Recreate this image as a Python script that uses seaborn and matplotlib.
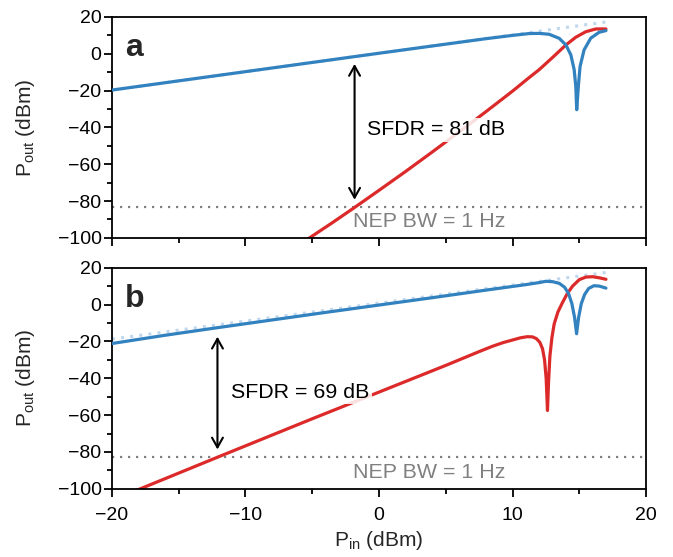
import matplotlib
matplotlib.use("Agg")
import matplotlib.pyplot as plt
from matplotlib.ticker import MultipleLocator
import seaborn as sns

# panel a: fundamental (blue) and third-order intermod (red)
fund_a_x = [-20, -10, 0, 8, 10, 11.25, 12.0, 12.75, 13.5, 14.0, 14.37, 14.62, 14.74,
            14.81, 14.93, 15.06, 15.36, 15.86, 16.49, 17.0]
fund_a_y = [-19.7, -9.7, 0.3, 8.2, 10.0, 11.0, 11.1, 10.6, 8.4, 4.8, -0.6, -8.7, -17.8,
            -30.4, -17.8, -6.9, 2.1, 8.5, 11.7, 12.6]
imd_a_x = [-5.3, -3.5, -1.83, 0, 2, 4, 6, 8, 10, 11.2, 12.0, 13.0, 14.0, 14.74,
           15.49, 16.24, 17.0]
imd_a_y = [-100.5, -91.8, -83.5, -74.2, -63.9, -53.3, -42.5, -31.5, -20.3, -13.2,
           -8.6, -2.0, 4.8, 9.0, 12.0, 13.5, 13.5]
fit_a_x = [-20, 17]
fit_a_y = [-19.7, 17.3]

# panel b
fund_b_x = [-20, -16, -12, -8, -4, 0, 4, 8, 10, 11, 12, 12.5, 13.0, 13.5, 13.9, 14.2,
            14.45, 14.65, 14.8, 14.95, 15.15, 15.4, 15.7, 16.1, 16.5, 17.0]
fund_b_y = [-21.1, -16.6, -12.4, -8.3, -4.2, -0.2, 3.8, 7.9, 9.9, 10.9, 12.0, 12.7,
            12.5, 11.6, 9.5, 6.0, 0.5, -7.0, -15.8, -7.0, 0.5, 5.5, 8.8, 10.3, 10.1, 9.0]
imd_b_x = [-18.2, -12.1, -5, 0, 5, 7.5, 8.5, 9.3, 10, 10.6, 11.1, 11.5, 11.8, 12.05,
           12.25, 12.4, 12.52, 12.62, 12.7, 12.8, 12.95, 13.12, 13.4, 13.74, 14.1,
           14.49, 15.0, 15.5, 16.0, 16.5, 17.0]
imd_b_y = [-101, -82.9, -62, -47.5, -33, -25.5, -22.6, -20.6, -19.2, -18.0, -17.4,
           -17.5, -18.5, -20.5, -24, -30, -40, -57.5, -42, -28, -18, -10.5, -4, 1.1,
           6.0, 10.0, 13.6, 15.0, 15.2, 14.6, 13.8]
fit_b_x = [-20, 17.1]
fit_b_y = [-18.7, 17.6]

nep_level = -83
nep_label = "NEP BW = 1 Hz"
sfdr_a = 81
sfdr_b = 69
sfdr_a_span = (-1.83, -5.5, -79.3)   # x, top, bottom
sfdr_b_span = (-12.1, -17.4, -78.7)

blue = "#3282c0"
red = "#dc2a2a"
fit_col = "#c0d7ed"

sns.set_theme(style="ticks")
plt.rcParams["font.family"] = ["Liberation Sans", "DejaVu Sans"]
plt.rcParams["mathtext.fontset"] = "custom"
plt.rcParams["mathtext.rm"] = "Liberation Sans"
plt.rcParams["mathtext.it"] = "Liberation Sans:italic"

fig, axes = plt.subplots(2, 1, figsize=(6.73, 5.57), dpi=100, sharex=True)
fig.subplots_adjust(left=0.1664, right=0.9599, top=0.9695, bottom=0.1226, hspace=0.136)

panels = [
    (axes[0], "a", fund_a_x, fund_a_y, imd_a_x, imd_a_y, fit_a_x, fit_a_y,
     sfdr_a, sfdr_a_span, (-0.9, -41.4)),
    (axes[1], "b", fund_b_x, fund_b_y, imd_b_x, imd_b_y, fit_b_x, fit_b_y,
     sfdr_b, sfdr_b_span, (-11.05, -47.8)),
]

for ax, letter, fx, fy, ix, iy, ex, ey, sfdr, span, txt_pos in panels:
    ax.plot(ex, ey, color=fit_col, lw=2.2, ls=(0, (1, 2)), zorder=1)
    ax.axhline(nep_level, color="#808080", lw=1.6, ls=(0, (1, 2.6)), zorder=1)
    sns.lineplot(x=fx, y=fy, ax=ax, color=blue, lw=2.3, zorder=3)
    sns.lineplot(x=ix, y=iy, ax=ax, color=red, lw=2.3, zorder=2)

    ax.annotate("", xy=(span[0], span[1]), xytext=(span[0], span[2]),
                arrowprops=dict(arrowstyle="<->,head_length=0.5,head_width=0.28",
                                color="black", lw=1.5, shrinkA=0, shrinkB=0,
                                mutation_scale=14), zorder=5)
    ax.text(txt_pos[0], txt_pos[1], f"SFDR = {sfdr} dB", fontsize=15.4,
            ha="left", va="center", color="black", zorder=4,
            bbox=dict(facecolor="white", edgecolor="none", alpha=0.85, pad=1.5))
    ax.text(3.8, -91.3, nep_label, fontsize=15.4, color="#808080",
            ha="center", va="center")
    ax.text(0.025, 0.825, letter, transform=ax.transAxes, fontsize=23,
            fontweight="bold", ha="left", va="baseline")

    ax.set_xlim(-20, 20)
    ax.set_ylim(-100, 20)
    ax.xaxis.set_major_locator(MultipleLocator(10))
    ax.xaxis.set_minor_locator(MultipleLocator(5))
    ax.yaxis.set_major_locator(MultipleLocator(20))
    ax.yaxis.set_minor_locator(MultipleLocator(10))
    ax.tick_params(which="major", direction="out", length=6, width=1.3,
                   labelsize=14, color="black", labelcolor="black")
    ax.tick_params(axis="y", which="major", pad=1.5)
    ax.tick_params(axis="x", which="major", pad=7)
    ax.tick_params(which="minor", direction="out", length=3.5, width=1.3, color="black")
    for sp in ax.spines.values():
        sp.set_linewidth(1.3)
        sp.set_color("black")
    ax.set_ylabel(r"P$_\mathrm{out}$ (dBm)", fontsize=15)
    ax.yaxis.set_label_coords(-0.14, 0.5)

axes[1].set_xlabel(r"P$_\mathrm{in}$ (dBm)", fontsize=15, labelpad=4)
axes[0].tick_params(labelbottom=False)

fig.savefig("out.png", dpi=100)
